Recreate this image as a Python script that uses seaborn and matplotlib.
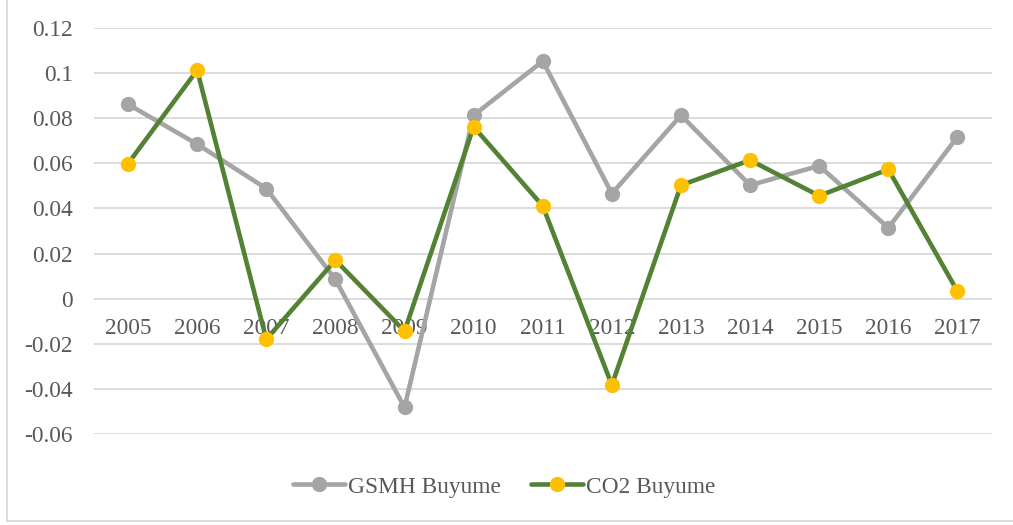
import matplotlib
matplotlib.use("Agg")
import matplotlib.pyplot as plt
import seaborn as sns
import pandas as pd
from matplotlib.lines import Line2D

years = ["2005", "2006", "2007", "2008", "2009", "2010", "2011",
         "2012", "2013", "2014", "2015", "2016", "2017"]
gsmh = [0.0862, 0.0685, 0.0488, 0.0085, -0.0482, 0.0813, 0.1053,
        0.0466, 0.0813, 0.0503, 0.0589, 0.0314, 0.0717]
co2 = [0.0599, 0.1013, -0.0180, 0.0171, -0.0144, 0.0762, 0.0411,
       -0.0383, 0.0503, 0.0614, 0.0456, 0.0573, 0.0033]
yticks = [-0.06, -0.04, -0.02, 0, 0.02, 0.04, 0.06, 0.08, 0.1, 0.12]
ytick_labels = ["-0.06", "-0.04", "-0.02", "0", "0.02", "0.04", "0.06",
                "0.08", "0.1", "0.12"]
series_names = ["GSMH Buyume", "CO2 Buyume"]

sns.set_theme(style="white")
plt.rcParams["font.family"] = ["Liberation Serif", "DejaVu Serif"]

W, H = 1013, 525
fig = plt.figure(figsize=(W / 100, H / 100), dpi=100)
ax = fig.add_axes([93.5 / W, 1 - 434 / H, (992 - 93.5) / W, (434 - 28) / H])

df = pd.DataFrame({"idx": range(len(years)), "gsmh": gsmh, "co2": co2})

gray = "#A5A5A5"
green = "#548235"
yellow = "#FFC000"
text_col = "#595959"
grid_col = "#D9D9D9"
fs = 16.8

sns.lineplot(data=df, x="idx", y="gsmh", ax=ax, color=gray, linewidth=3.3,
             marker="o", markersize=11, markerfacecolor=gray,
             markeredgewidth=0, zorder=3)
sns.lineplot(data=df, x="idx", y="co2", ax=ax, color=green, linewidth=3.3,
             marker="o", markersize=11, markerfacecolor=yellow,
             markeredgewidth=0, zorder=4)

ax.set_xlim(-0.5, len(years) - 0.5)
ax.set_ylim(-0.06, 0.12)
ax.set_yticks(yticks)
ax.set_yticklabels(ytick_labels)
ax.set_xticks(range(len(years)))
ax.set_xticklabels(years)
ax.set_xlabel("")
ax.set_ylabel("")

for y in yticks:
    ax.axhline(y, color=grid_col, linewidth=1.3, zorder=1)

for s in ax.spines.values():
    s.set_visible(False)
ax.spines["bottom"].set_position(("data", 0))

ax.tick_params(axis="y", length=0, pad=15, labelsize=fs, labelcolor=text_col)
ax.tick_params(axis="x", length=0, pad=14, labelsize=fs, labelcolor=text_col)

handles = [
    Line2D([0], [0], color=gray, linewidth=3.3, marker="o", markersize=11,
           markerfacecolor=gray, markeredgewidth=0),
    Line2D([0], [0], color=green, linewidth=3.3, marker="o", markersize=11,
           markerfacecolor=yellow, markeredgewidth=0),
]
leg = fig.legend(handles, series_names, loc="center", ncol=2,
                 bbox_to_anchor=(504 / W, 1 - 487 / H), frameon=False,
                 fontsize=fs, handlelength=2.25, handletextpad=0.1,
                 columnspacing=1.3, labelcolor=text_col)

# chart-area border (left and bottom visible)
fig.add_artist(Line2D([6.5 / W, 6.5 / W], [1, 1 - 521 / H], color=grid_col,
                      linewidth=1.3, transform=fig.transFigure))
fig.add_artist(Line2D([6.5 / W, 1], [1 - 521 / H, 1 - 521 / H], color=grid_col,
                      linewidth=1.3, transform=fig.transFigure))

fig.savefig("out.png", dpi=100, facecolor="white")
